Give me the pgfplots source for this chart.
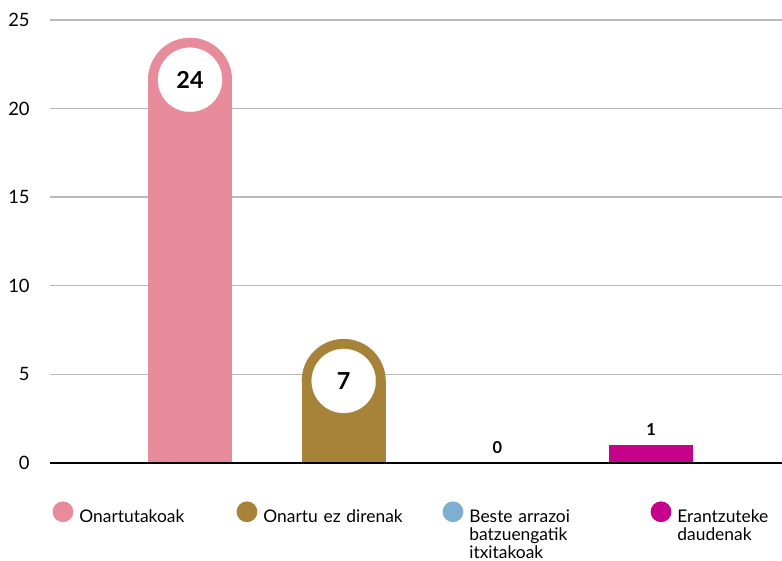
\documentclass[border=0pt]{standalone}
\usepackage{fontspec}
\setmainfont{Lato}
\usepackage{pgfplots}
\usepackage{pgfplotstable}
\pgfplotsset{compat=1.18}
\definecolor{cpink}{RGB}{232,140,156}
\definecolor{cgold}{RGB}{166,131,56}
\definecolor{cblue}{RGB}{126,174,208}
\definecolor{cmag}{RGB}{197,0,138}
\pgfplotsset{
  circleleg/.style={legend image code/.code={\fill[##1] (5.2pt,3pt) circle (5.2pt);}},
  barsty/.style={ybar, bar width=42pt, bar shift=0pt, draw=none, circleleg},
  capsty/.style={only marks, color=#1, mark=*, mark size=20.8pt, mark options={solid, fill=#1, draw=#1, line width=0.4pt}, forget plot},
  holesty/.style={only marks, color=white, mark=*, mark size=16pt, mark options={solid, fill=white, draw=white, line width=0.1pt}, forget plot,
     point meta=explicit, nodes near coords,
     every node near coord/.append style={anchor=center, inner sep=0pt, text=black, font=\bfseries\fontsize{11.7}{12}\selectfont}},
  smalllab/.style={point meta=explicit, nodes near coords,
     every node near coord/.append style={anchor=south, inner sep=0pt, yshift=4.5pt, text=black, font=\bfseries\fontsize{8.2}{9}\selectfont}},
}
% values; the rounded cap radius (21pt) is 2.37 y units
\pgfplotstableread{
x v
0 24
}\tA
\pgfplotstableread{
x v
1 7
}\tB
\pgfplotstableread{
x v
2 0
}\tC
\pgfplotstableread{
x v
3 1
}\tD
\begin{document}
\begin{tikzpicture}
\useasboundingbox (-25pt,-49pt) rectangle (366pt,231.5pt);
\begin{axis}[
  at={(0pt,0pt)}, anchor=south west,
  scale only axis, width=366pt, height=221.5pt,
  xmin=-0.911, xmax=3.852, ymin=0, ymax=25,
  clip=false,
  axis line style={draw=none},
  xtick=\empty,
  ytick={0,5,10,15,20,25},
  ymajorgrids,
  grid style={gray!55, line width=0.7pt},
  major tick length=0pt,
  /pgf/number format/assume math mode=true,
  yticklabel style={font=\fontsize{9.2}{10}\selectfont, anchor=east, inner sep=0pt, xshift=-10pt},
  legend columns=4,
  legend cell align=left,
  legend style={draw=none, fill=none, inner sep=0pt, outer sep=0pt, column sep=0pt,
    at={(rel axis cs:0,0)}, anchor=north west, xshift=1.3pt, yshift=-19.2pt,
    font=\fontsize{8.7}{8.9}\selectfont,
    nodes={inner xsep=3pt, inner ysep=0pt, align=left}},
]
% Onartutakoak
\addplot[barsty, fill=cpink] table[x=x, y expr=\thisrow{v}-2.37] {\tA};
\addlegendentry[text width=75.6pt]{Onartutakoak}
\addplot[capsty=cpink] table[x=x, y expr=\thisrow{v}-2.37] {\tA};
\addplot[holesty] table[x=x, y expr=\thisrow{v}-2.37, meta=v] {\tA};
% Onartu ez direnak
\addplot[barsty, fill=cgold] table[x=x, y expr=\thisrow{v}-2.37] {\tB};
\addlegendentry[text width=86.6pt]{Onartu ez direnak}
\addplot[capsty=cgold] table[x=x, y expr=\thisrow{v}-2.37] {\tB};
\addplot[holesty] table[x=x, y expr=\thisrow{v}-2.37, meta=v] {\tB};
% Beste arrazoi batzuengatik itxitakoak
\addplot[barsty, fill=cblue, smalllab] table[x=x, y=v, meta=v] {\tC};
\addlegendentry[text width=87.6pt]{Beste arrazoi\\batzuengatik\\itxitakoak}
% Erantzuteke daudenak
\addplot[barsty, fill=cmag, smalllab] table[x=x, y=v, meta=v] {\tD};
\addlegendentry[text width=55pt]{Erantzuteke\\daudenak}
\draw[black, line width=1.3pt] (rel axis cs:0,0) -- (rel axis cs:1,0);
\end{axis}
\end{tikzpicture}
\end{document}
